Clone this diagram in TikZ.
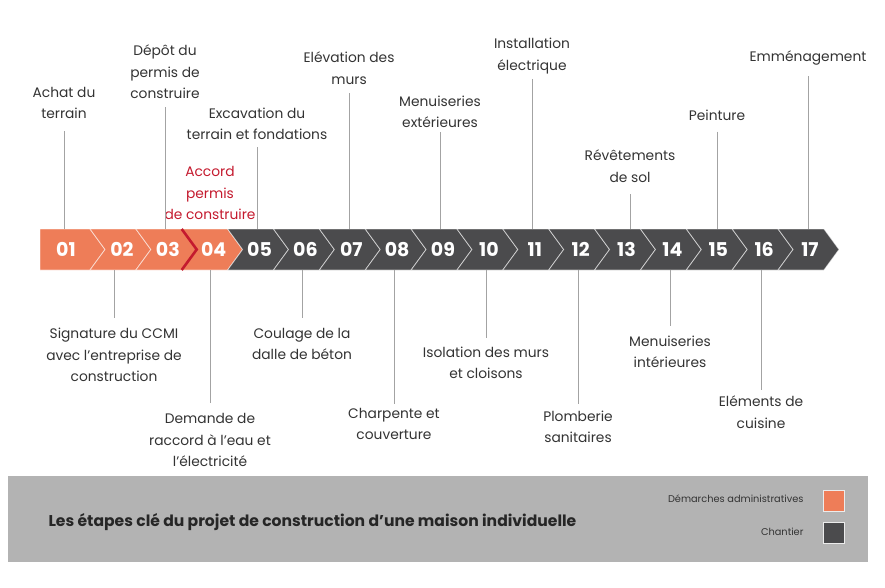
\documentclass[tikz,border=0pt]{standalone}
\usepackage{fontspec}
\setmainfont{Poppins}
\usepackage{xcolor}
\usepackage{tikz}

\definecolor{adminorange}{HTML}{EE7D58}
\definecolor{sitegray}{HTML}{4B4B4D}
\definecolor{accordred}{HTML}{C41A2E}
\definecolor{labeltext}{HTML}{333333}
\definecolor{tickgray}{HTML}{A3A3A3}
\definecolor{bandgray}{HTML}{B3B3B3}

\tikzset{
  stage/.style={align=center, inner sep=0pt, text=labeltext, font=\fontsize{13.8}{21.5}\selectfont},
  tick/.style={draw=tickgray, line width=0.9pt},
  segment/.style={draw=white, draw opacity=0.6, line width=0.8pt},
  num/.style={inner sep=0pt, minimum height=41pt, text=white, font=\fontsize{19}{19}\selectfont\bfseries},
}

\begin{document}
\begin{tikzpicture}[x=1pt, y=-1pt]
    \useasboundingbox (0,0) rectangle (885,588);

    % Timeline bar
    \fill[adminorange, segment] (40,229) -- (90,229) -- (105,249.5) -- (90,270) -- (40,270) -- cycle;
    \foreach \i in {2,...,17}{
      \pgfmathsetmacro\xl{90+45.87*(\i-2)}
      \pgfmathsetmacro\xr{90+45.87*(\i-1)}
      \ifnum\i<5 \def\segcol{adminorange}\else \def\segcol{sitegray}\fi
      \fill[\segcol, segment] (\xl,229) -- (\xr,229) -- (\xr+15,249.5) -- (\xr,270)
          -- (\xl,270) -- (\xl+15,249.5) -- cycle;
    }
    \draw[accordred, line width=2.6pt] (181.7,229) -- (196.7,249.5) -- (181.7,270);

    % Step numbers
    \node[num] (n1) at (66,249.5) {01};
    \foreach \i in {2,...,17}{
      \pgfmathsetmacro\xc{90+45.87*(\i-1.5)+9}
      \node[num] (n\i) at (\xc,249.5) {\ifnum\i<10 0\fi\i};
    }

    % Steps above the bar
    \node[stage] (achat) at (64,103) {Achat du\\terrain};
    \node[stage] (depot) at (165,72) {Dépôt du\\permis de\\construire};
    \node[stage] (excavation) at (257,124) {Excavation du\\terrain et fondations};
    \node[stage, text=accordred] (accord) at (210,193) {Accord\\permis\\de construire};
    \node[stage] (elevation) at (349,68) {Elévation des\\murs};
    \node[stage] (menext) at (440,112) {Menuiseries\\extérieures};
    \node[stage] (electrique) at (532,56) {Installation\\électrique};
    \node[stage] (revetements) at (630,166) {Révêtements\\de sol};
    \node[stage] (peinture) at (717,115) {Peinture};
    \node[stage] (emmenagement) at (808,58) {Emménagement};

    \draw[tick, shorten <=12pt] (achat.south) -- (achat.south |- n1.north);
    \draw[tick, shorten <=8pt] (depot.south) -- (depot.south |- n3.north);
    \draw[tick, shorten <=7pt] (excavation.south) -- (excavation.south |- n5.north);
    \draw[tick, shorten <=9pt] (elevation.south) -- (elevation.south |- n7.north);
    \draw[tick, shorten <=4pt] (menext.south) -- (menext.south |- n9.north);
    \draw[tick, shorten <=5pt] (electrique.south) -- (electrique.south |- n11.north);
    \draw[tick, shorten <=12pt] (revetements.south) -- (revetements.south |- n13.north);
    \draw[tick, shorten <=11pt] (peinture.south) -- (peinture.south |- n15.north);
    \draw[tick, shorten <=11pt] (emmenagement.south) -- (emmenagement.south |- n17.north);

    % Steps below the bar
    \node[stage] (signature) at (114,355) {Signature du CCMI\\avec l’entreprise de\\construction};
    \node[stage] (raccord) at (210,440) {Demande de\\raccord à l’eau et\\l’électricité};
    \node[stage] (coulage) at (302,344) {Coulage de la\\dalle de béton};
    \node[stage] (charpente) at (394,424) {Charpente et\\couverture};
    \node[stage] (isolation) at (486,363) {Isolation des murs\\et cloisons};
    \node[stage] (plomberie) at (578,427) {Plomberie\\sanitaires};
    \node[stage] (menint) at (670,352) {Menuiseries\\intérieures};
    \node[stage] (cuisine) at (761,412) {Eléments de\\cuisine};

    \draw[tick, shorten <=10pt] (signature.north) -- (signature.north |- n2.south);
    \draw[tick, shorten <=10pt] (raccord.north) -- (raccord.north |- n4.south);
    \draw[tick, shorten <=10pt] (coulage.north) -- (coulage.north |- n6.south);
    \draw[tick, shorten <=4pt] (charpente.north) -- (charpente.north |- n8.south);
    \draw[tick, shorten <=9pt] (isolation.north) -- (isolation.north |- n10.south);
    \draw[tick, shorten <=7pt] (plomberie.north) -- (plomberie.north |- n12.south);
    \draw[tick, shorten <=10pt] (menint.north) -- (menint.north |- n14.south);
    \draw[tick, shorten <=6pt] (cuisine.north) -- (cuisine.north |- n16.south);

    % Legend band
    \fill[bandgray] (8,476) rectangle (868,562);
    \node[anchor=west, text=black!85, font=\fontsize{15.6}{17}\selectfont\bfseries] (title) at (45,522)
      {Les étapes clé du projet de construction d’une maison individuelle};
    \node[draw=white!85!gray, line width=0.8pt, fill=adminorange, minimum size=21pt, inner sep=0pt] (keyadmin) at (833.5,500.5) {};
    \node[draw=white!85!gray, line width=0.8pt, fill=sitegray, minimum size=21pt, inner sep=0pt] (keysite) at (833.5,532.5) {};
    \node[anchor=east, text=labeltext, font=\fontsize{9.8}{10}\selectfont] (admintext) at (807,499) {Démarches administratives};
    \node[anchor=east, text=labeltext, font=\fontsize{9.8}{10}\selectfont] (sitetext) at (807,532) {Chantier};

\end{tikzpicture}
\end{document}
